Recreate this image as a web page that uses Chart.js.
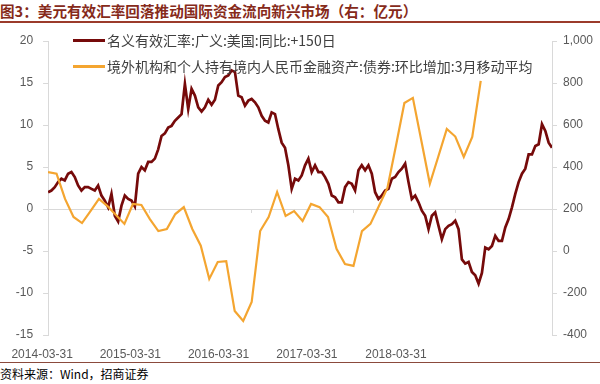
<!doctype html>
<html>

<head>
	<meta charset="utf-8">
	<title>美元有效汇率回落推动国际资金流向新兴市场</title>
	<script src="https://cdn.jsdelivr.net/npm/chart.js@4.4.1/dist/chart.umd.min.js"></script>
	<style>
	body {
		margin: 0;
		width: 600px;
		height: 384px;
		overflow: hidden;
		background: #fff;
		font-family: "Noto Sans CJK SC", sans-serif;
	}
	#title {
		height: 21px;
		line-height: 21px;
		font-size: 14.6px;
		font-weight: bold;
		color: #862a1a;
		border-bottom: 2px solid #9b3b2b;
		white-space: nowrap;
	}
	.chart-container {
		position: relative;
		width: 600px;
		height: 339px;
	}
	#legend {
		position: absolute;
		left: 73px;
		top: 4px;
		font-size: 14px;
		color: #404040;
	}
	.item {
		display: flex;
		align-items: center;
		height: 26px;
		white-space: nowrap;
	}
	.swatch {
		width: 32px;
		height: 3px;
		margin-right: 2px;
	}
	#source {
		border-top: 1px solid #8b4a3c;
		height: 21px;
		line-height: 21px;
		font-size: 12px;
		color: #000;
	}
	</style>
</head>

<body>
	<div id="title">图3：美元有效汇率回落推动国际资金流向新兴市场（右：亿元）</div>
	<div class="chart-container">
		<canvas id="chart"></canvas>
		<div id="legend"></div>
	</div>
	<div id="source">资料来源：Wind，招商证券</div>
	<script>
		// x axis is in months from the first monthly point (2014-03)
		var xLabels = ['2014-03-31', '2015-03-31', '2016-03-31', '2017-03-31', '2018-03-31'];
		var xLabelMonths = [-0.7, 9.7, 20.1, 30.5, 41.0];
		var monthsShown = 59.4;

		// 名义有效汇率:广义:美国:同比:+150日 (%), sampled evenly over the axis
		var neerYoy = [
			2.0, 2.2, 2.6, 3.2, 3.6, 3.4, 4.2, 4.4, 3.8, 2.8,
			2.2, 2.6, 2.6, 2.4, 2.2, 2.8, 1.6, 1.0, 0.2, 1.8,
			-0.8, -1.5, 0.4, 1.6, 1.2, 1.0, 0.3, 4.2, 5.0, 4.6,
			5.6, 5.6, 6.0, 7.1, 8.7, 9.0, 9.7, 9.9, 10.5, 10.9,
			11.3, 14.9, 11.9, 14.3, 13.5, 12.1, 11.6, 12.1, 13.0, 12.4,
			13.0, 14.7, 15.1, 15.7, 15.9, 16.5, 16.3, 13.5, 13.3, 12.3,
			12.9, 13.1, 12.7, 12.1, 11.1, 10.5, 10.3, 11.5, 11.3, 9.5,
			7.9, 7.3, 5.2, 2.4, 3.6, 3.4, 4.0, 5.2, 6.0, 4.4,
			5.2, 4.4, 4.4, 3.8, 3.0, 1.6, 1.4, 0.8, 0.8, 2.6,
			3.2, 3.0, 2.2, 4.6, 5.2, 4.6, 5.2, 4.2, 2.0, 1.2,
			1.6, 2.2, 2.4, 3.6, 3.8, 4.4, 4.8, 5.4, 3.2, 1.2,
			1.6, 0.8, -0.2, -0.8, -2.4, -0.8, -0.4, -2.0, -3.6, -2.4,
			-2.0, -1.8, -1.4, -2.4, -6.0, -6.5, -6.3, -7.5, -7.9, -8.9,
			-7.6, -4.6, -4.8, -4.4, -3.2, -3.8, -3.8, -2.2, -1.2, 0.2,
			1.8, 3.2, 4.2, 4.8, 6.5, 6.5, 7.5, 7.7, 10.1, 9.3,
			7.9, 7.3
		];

		// 境外机构和个人持有境内人民币金融资产:债券:环比增加:3月移动平均 (亿元), monthly
		var bondInflow = [
			376, 368, 248, 162, 133, 190, 248, 214, 171, 129,
			224, 219, 152, 95, 105, 176, 209, 105, 25, -133,
			-52, -48, -286, -333, -243, 95, 162, 281, 167, 190,
			143, 224, 209, 162, 10, -62, -71, 95, 129, 214,
			300, 500, 705, 729, 525, 320, 450, 581, 545, 448,
			543, 810
		];

		var seriesNames = ['名义有效汇率:广义:美国:同比:+150日', '境外机构和个人持有境内人民币金融资产:债券:环比增加:3月移动平均'];
		var seriesColors = ['#760a0a', '#f4a530'];

		var axisGray = '#d9d9d9';
		var tickFont = { family: 'Liberation Sans', size: 12 };

		window.onload = function() {
			var neerStep = monthsShown / (neerYoy.length - 1);
			var neerPoints = neerYoy.map(function(v, i) { return { x: i * neerStep, y: v }; });
			var bondPoints = bondInflow.map(function(v, i) { return { x: i, y: v }; });

			var ctx = document.getElementById('chart').getContext('2d');
			var chart = new Chart(ctx, {
				type: 'line',
				data: {
					datasets: [{
						label: seriesNames[0],
						data: neerPoints,
						borderColor: seriesColors[0],
						borderWidth: 2.7,
						pointRadius: 0,
						yAxisID: 'y',
						order: 1
					}, {
						label: seriesNames[1],
						data: bondPoints,
						borderColor: seriesColors[1],
						borderWidth: 2.2,
						pointRadius: 0,
						yAxisID: 'y1',
						order: 0
					}]
				},
				options: {
					responsive: true,
					maintainAspectRatio: false,
					animation: false,
					layout: { padding: { top: 18 } },
					plugins: {
						legend: { display: false },
						tooltip: { enabled: false }
					},
					scales: {
						x: {
							type: 'linear',
							min: 0,
							max: monthsShown,
							grid: { display: false, drawTicks: false },
							border: { display: false },
							afterBuildTicks: function(scale) {
								scale.ticks = xLabelMonths.map(function(v) { return { value: v }; });
							},
							afterFit: function(scale) { scale.height = 27; },
							ticks: {
								autoSkip: false,
								maxRotation: 0,
								padding: 12,
								color: '#595959',
								font: tickFont,
								callback: function(v, i) { return xLabels[i]; }
							}
						},
						x2: {
							type: 'linear',
							position: { y: 0 },
							min: 0,
							max: monthsShown,
							ticks: { display: false, stepSize: 12, includeBounds: false },
							grid: { drawOnChartArea: false, tickLength: 4, color: axisGray },
							border: { display: false }
						},
						y: {
							position: 'left',
							min: -15,
							max: 20,
							afterFit: function(scale) { scale.width = 48; },
							ticks: { stepSize: 5, padding: 10, color: '#595959', font: tickFont },
							grid: {
								color: function(c) { return c.tick && c.tick.value === 0 ? axisGray : 'transparent'; },
								tickColor: axisGray,
								tickLength: 5
							},
							border: { color: axisGray }
						},
						y1: {
							position: 'right',
							min: -400,
							max: 1000,
							afterFit: function(scale) { scale.width = 48; },
							ticks: { stepSize: 200, padding: 6, color: '#595959', font: tickFont },
							grid: { drawOnChartArea: false, tickColor: axisGray, tickLength: 5 },
							border: { color: axisGray }
						}
					}
				}
			});

			var legend = document.getElementById('legend');
			chart.data.datasets.forEach(function(ds) {
				var item = document.createElement('div');
				item.className = 'item';
				var swatch = document.createElement('span');
				swatch.className = 'swatch';
				swatch.style.background = ds.borderColor;
				var text = document.createElement('span');
				text.textContent = ds.label;
				item.appendChild(swatch);
				item.appendChild(text);
				legend.appendChild(item);
			});
		};
	</script>
</body>

</html>
